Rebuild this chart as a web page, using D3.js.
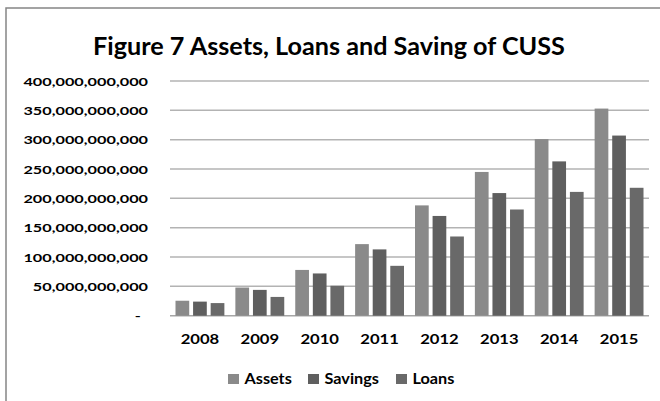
<!DOCTYPE html>
<html>
<head>
<meta charset="utf-8">
<script src="https://cdn.jsdelivr.net/npm/d3@7"></script>
<style>
  html, body { margin: 0; padding: 0; background: #fff; }
  svg { display: block; }
  text { font-family: Lato, "Open Sans", sans-serif; font-weight: bold; fill: #000; }
</style>
</head>
<body>
<svg id="chart" width="660" height="401"></svg>
<script>
// Chart data
const years = ["2008", "2009", "2010", "2011", "2012", "2013", "2014", "2015"];
const seriesNames = ["Assets", "Savings", "Loans"];
const assets  = [25.5e9, 48e9, 78e9, 122e9, 188e9, 245e9, 301e9, 353e9];
const savings = [24e9, 44e9, 72e9, 113e9, 170e9, 209e9, 263e9, 307e9];
const loans   = [21.5e9, 32e9, 51e9, 85e9, 135e9, 181e9, 211e9, 218e9];
const yTicks  = [0, 50e9, 100e9, 150e9, 200e9, 250e9, 300e9, 350e9, 400e9];
const seriesColors = ["#8a8a8a", "#5f5f5f", "#696969"];

const valuesBySeries = { Assets: assets, Savings: savings, Loans: loans };
const rows = years.map((y, i) => ({
  year: y,
  values: seriesNames.map(s => ({ key: s, value: valuesBySeries[s][i] }))
}));

const svg = d3.select("#chart");

// Outer frame
svg.append("rect")
  .attr("x", 6).attr("y", 8)
  .attr("width", 680).attr("height", 420)
  .attr("fill", "none").attr("stroke", "#858585").attr("stroke-width", 1.5);

// Title
svg.append("text")
  .attr("x", 329).attr("y", 55)
  .attr("text-anchor", "middle")
  .style("font-size", "25.2px")
  .text("Figure 7 Assets, Loans and Saving of CUSS");

// Scales
const plot = { left: 170, right: 649, top: 81, bottom: 315.7 };
const x0 = d3.scaleBand().domain(years).range([plot.left, plot.right]);
const x1 = d3.scaleBand().domain(seriesNames)
  .range([5.5, x0.bandwidth() - 5.5]).paddingInner(0.22);
const y = d3.scaleLinear().domain([0, 400e9]).range([plot.bottom, plot.top]);
const color = d3.scaleOrdinal().domain(seriesNames).range(seriesColors);

// Gridlines
svg.append("g")
  .selectAll("line")
  .data(yTicks)
  .join("line")
  .attr("x1", plot.left).attr("x2", plot.right)
  .attr("y1", d => y(d)).attr("y2", d => y(d))
  .attr("stroke", d => d === 0 ? "#a6a6a6" : "#b3b3b3")
  .attr("stroke-width", 1.5);

// Y axis labels (wide bold lettering)
const fmt = d3.format(",");
const yAxis = d3.axisLeft(y)
  .tickValues(yTicks)
  .tickSize(0)
  .tickPadding(0)
  .tickFormat(d => d === 0 ? "-" : fmt(d));
const yg = svg.append("g")
  .attr("transform", `translate(${plot.left - 22},0)`)
  .call(yAxis);
yg.select(".domain").remove();
yg.selectAll("text")
  .style("font-size", "11.5px")
  .attr("x", d => d === 0 ? -5 : 0)
  .attr("dy", "0.36em")
  .attr("transform", "scale(1.415,1)");

// X axis labels
const xAxis = d3.axisBottom(x0).tickSize(0).tickPadding(0);
const xg = svg.append("g")
  .attr("transform", `translate(0,${plot.bottom})`)
  .call(xAxis);
xg.select(".domain").remove();
xg.selectAll("text")
  .style("font-size", "12.8px")
  .attr("y", 28.5)
  .attr("dy", 0)
  .attr("transform", "scale(1.3,1)");

// Bars
svg.append("g")
  .selectAll("g")
  .data(rows)
  .join("g")
  .attr("transform", d => `translate(${x0(d.year)},0)`)
  .selectAll("rect")
  .data(d => d.values)
  .join("rect")
  .attr("x", d => x1(d.key))
  .attr("width", x1.bandwidth())
  .attr("y", d => y(d.value))
  .attr("height", d => y(0) - y(d.value))
  .attr("fill", d => color(d.key));

// Legend
const legendX = [228, 308, 396];
const legend = svg.append("g")
  .selectAll("g")
  .data(seriesNames)
  .join("g")
  .attr("transform", (d, i) => `translate(${legendX[i]},374)`);
legend.append("rect")
  .attr("width", 11).attr("height", 10)
  .attr("fill", d => color(d));
legend.append("text")
  .attr("transform", "translate(16.5,10) scale(1.12,1)")
  .style("font-size", "14.5px")
  .text(d => d);
</script>
</body>
</html>
